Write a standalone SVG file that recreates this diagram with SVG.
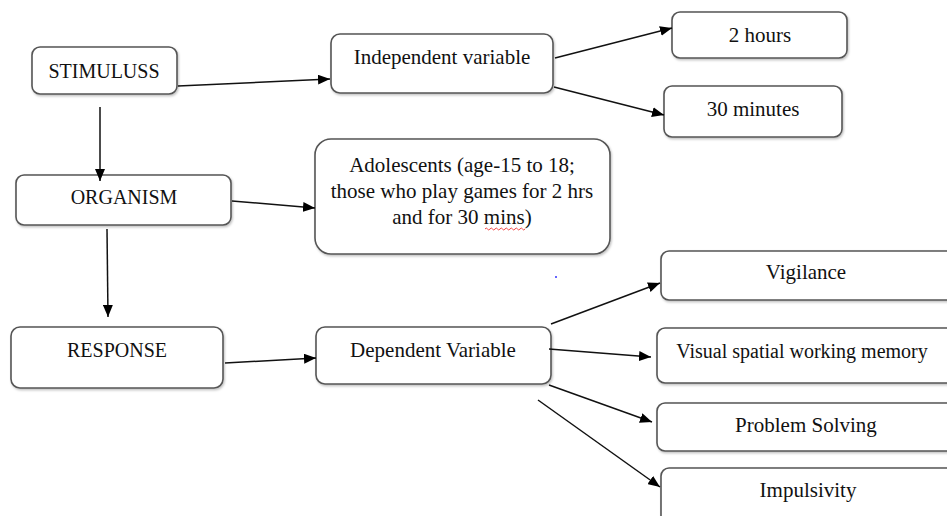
<svg xmlns="http://www.w3.org/2000/svg" width="947" height="516" viewBox="0 0 947 516">
<defs>
<marker id="ah" markerWidth="12" markerHeight="10" refX="12" refY="5" orient="auto" markerUnits="userSpaceOnUse">
<path d="M0,0 L12,5 L0,10 Z" fill="#000"/>
</marker>
<filter id="sh" x="-5%" y="-5%" width="110%" height="115%">
<feDropShadow dx="1" dy="1.5" stdDeviation="0.8" flood-color="#000" flood-opacity="0.25"/>
</filter>
</defs>
<style>
.box{fill:#fff;stroke:#555;stroke-width:1.6;filter:url(#sh)}
.t{font-family:'Liberation Serif', 'DejaVu Serif', serif;font-size:21px;fill:#111;text-anchor:middle}
.s{font-size:20px}
.c{stroke:#111;stroke-width:1.5;fill:none;marker-end:url(#ah)}
</style>
<rect width="947" height="516" fill="#fff"/>
<g font-family="Liberation Serif, serif">
<g id="stimuluss"><rect class="box" x="32" y="47" width="145" height="47" rx="8"/><text class="t s" x="104" y="78">STIMULUSS</text></g>
<g id="organism"><rect class="box" x="16" y="175" width="215" height="50" rx="8"/><text class="t s" x="124" y="204">ORGANISM</text></g>
<g id="response"><rect class="box" x="11" y="327" width="212" height="61" rx="9"/><text class="t s" x="117" y="357">RESPONSE</text></g>
<g id="independent"><rect class="box" x="331" y="34" width="222" height="59" rx="9"/><text class="t" x="442" y="64">Independent variable</text></g>
<g id="adolescents"><rect class="box" x="315" y="139" width="295" height="115" rx="16"/>
<text class="t" x="462" y="172">Adolescents (age-15 to 18;</text>
<text class="t" x="462" y="198">those who play games for 2 hrs</text>
<text class="t" x="462" y="224">and for 30 mins)</text>
<path d="M485,229 q1.25,-2 2.5,0 t2.5,0 t2.5,0 t2.5,0 t2.5,0 t2.5,0 t2.5,0 t2.5,0 t2.5,0 t2.5,0 t2.5,0 t2.5,0 t2.5,0 t2.5,0 t2.5,0 t2.5,0" fill="none" stroke="#e33" stroke-width="0.9"/>
</g>
<g id="dependent"><rect class="box" x="316" y="327" width="235" height="57" rx="9"/><text class="t" x="433" y="357">Dependent Variable</text></g>
<g id="hours2"><rect class="box" x="672" y="12" width="175" height="46" rx="8"/><text class="t" x="760" y="42">2 hours</text></g>
<g id="minutes30"><rect class="box" x="664" y="86" width="178" height="51" rx="8"/><text class="t" x="753" y="116">30 minutes</text></g>
<g id="vigilance"><rect class="box" x="661" y="251" width="300" height="49" rx="8"/><text class="t" x="806" y="279">Vigilance</text></g>
<g id="visual"><rect class="box" x="657" y="328" width="304" height="55" rx="8"/><text class="t s" x="802" y="358">Visual spatial working memory</text></g>
<g id="problem"><rect class="box" x="657" y="403" width="304" height="48" rx="8"/><text class="t" x="806" y="432">Problem Solving</text></g>
<g id="impulsivity"><rect class="box" x="661" y="468" width="300" height="60" rx="8"/><text class="t" x="808" y="497">Impulsivity</text></g>
</g>
<circle cx="556" cy="277" r="1" fill="#33f"/>
<g id="connectors">
<line class="c" x1="178" y1="86" x2="330" y2="79"/>
<line class="c" x1="555" y1="58" x2="672" y2="28"/>
<line class="c" x1="554" y1="87" x2="664" y2="115"/>
<line class="c" x1="100" y1="107" x2="100" y2="181"/>
<line class="c" x1="232" y1="201" x2="315" y2="208"/>
<line class="c" x1="107" y1="229" x2="108" y2="317"/>
<line class="c" x1="225" y1="363" x2="316" y2="358"/>
<line class="c" x1="551" y1="324" x2="660" y2="283"/>
<line class="c" x1="549" y1="349" x2="651" y2="357"/>
<line class="c" x1="549" y1="385" x2="652" y2="422"/>
<line class="c" x1="538" y1="400" x2="660" y2="487"/>
</g>
</svg>
